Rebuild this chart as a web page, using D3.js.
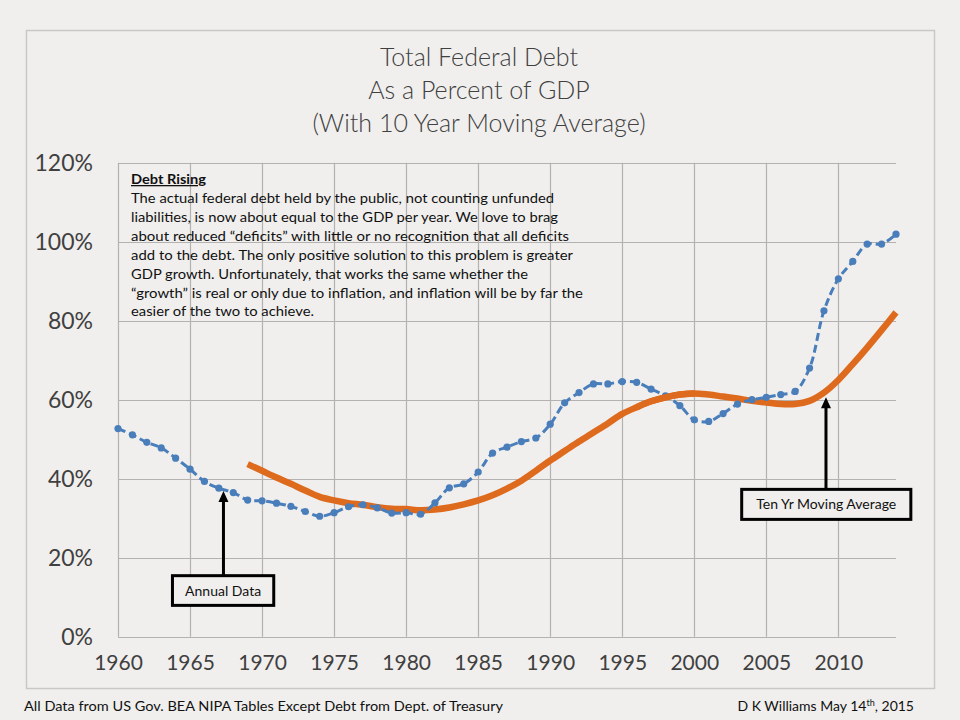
<!DOCTYPE html>
<html><head><meta charset="utf-8">
<script src="https://cdn.jsdelivr.net/npm/d3@7"></script>
<style>
html,body{margin:0;padding:0;background:#f0efed;}
svg{display:block;}
</style></head>
<body>
<svg id="chart" width="960" height="720"></svg>
<script>
const years = [1960,1961,1962,1963,1964,1965,1966,1967,1968,1969,1970,1971,1972,1973,1974,1975,1976,1977,1978,1979,1980,1981,1982,1983,1984,1985,1986,1987,1988,1989,1990,1991,1992,1993,1994,1995,1996,1997,1998,1999,2000,2001,2002,2003,2004,2005,2006,2007,2008,2009,2010,2011,2012,2013,2014];
const annualDebt = [52.7,51.1,49.2,47.8,45.2,42.4,39.3,37.6,36.5,34.6,34.4,33.8,33.0,31.7,30.5,31.4,32.9,33.4,32.6,31.3,31.4,31.0,33.9,37.7,38.7,41.7,46.5,48.0,49.4,50.3,53.8,59.2,61.8,64.0,64.0,64.6,64.4,62.7,61.0,58.5,54.9,54.5,56.5,58.9,60.0,60.6,61.3,62.1,68.0,82.5,90.6,95.0,99.4,99.4,101.9];
const maYears = [1969,1970,1971,1972,1973,1974,1975,1976,1977,1978,1979,1980,1981,1982,1983,1984,1985,1986,1987,1988,1989,1990,1991,1992,1993,1994,1995,1996,1997,1998,1999,2000,2001,2002,2003,2004,2005,2006,2007,2008,2009,2010,2011,2012,2013,2014];
const movingAvg = [43.7,42.0,40.3,38.7,37.0,35.4,34.5,33.8,33.4,32.8,32.4,32.3,32.0,32.2,32.7,33.5,34.5,35.8,37.5,39.5,42.0,44.6,47.0,49.4,51.7,54.0,56.4,58.1,59.6,60.6,61.3,61.6,61.3,60.8,60.3,59.7,59.3,58.9,58.9,59.7,61.8,65.0,69.0,73.2,77.6,82.1];
const yTicks = [0,20,40,60,80,100,120];
const xTicks = [1960,1965,1970,1975,1980,1985,1990,1995,2000,2005,2010];
const titleLines = ["Total Federal Debt","As a Percent of GDP","(With 10 Year Moving Average)"];
const noteTitle = "Debt Rising";
const noteLines = [
 "The actual federal debt held by the public, not counting unfunded",
 "liabilities, is now about equal to the GDP per year. We love to brag",
 "about reduced \u201cdeficits\u201d with little or no recognition that all deficits",
 "add to the debt. The only positive solution to this problem  is greater",
 "GDP growth. Unfortunately, that works the same whether the",
 "\u201cgrowth\u201d  is real or only due to inflation, and inflation will be by far the",
 "easier of the two to achieve."
];
const noteWidths = [423,427,438,442,397,452,183];
const sourceText = "All Data from US Gov. BEA NIPA Tables Except Debt from Dept. of Treasury";

const svg = d3.select("#chart");
const W=960,H=720;
const plot = {l:118,r:896,t:162.7,b:636.7};
const x = d3.scaleLinear().domain([1960,2014]).range([plot.l,plot.r]);
const y = d3.scaleLinear().domain([0,120]).range([plot.b,plot.t]);
const txt = "#404040", grid="#b4b2b0", blue="#4a7ebb", orange="#de6a1e";
const font = "Lato, 'Open Sans', sans-serif";

svg.append("rect").attr("width",W).attr("height",H).attr("fill","#f0efed");
svg.append("rect").attr("x",26.5).attr("y",30.5).attr("width",908).attr("height",658)
  .attr("fill","#f0efed").attr("stroke","#c9c8c6").attr("stroke-width",1.5);

// title
svg.append("g").selectAll("text").data(titleLines).join("text")
  .attr("x",479).attr("y",(d,i)=>66+i*33).attr("text-anchor","middle")
  .attr("font-family",font).attr("font-weight",300).attr("font-size",25).attr("fill",txt)
  .text(d=>d);

// gridlines
const g = svg.append("g");
g.selectAll("line.h").data(yTicks).join("line").attr("class","h")
  .attr("x1",plot.l).attr("x2",plot.r).attr("y1",d=>Math.round(y(d))+0.5).attr("y2",d=>Math.round(y(d))+0.5)
  .attr("stroke",grid).attr("stroke-width",1.2);
g.selectAll("line.v").data(xTicks).join("line").attr("class","v")
  .attr("y1",plot.t).attr("y2",plot.b).attr("x1",d=>Math.round(x(d))+0.5).attr("x2",d=>Math.round(x(d))+0.5)
  .attr("stroke",grid).attr("stroke-width",1.2);

// axes labels via d3 axes
const yAxis = svg.append("g").attr("transform",`translate(${plot.l},0)`)
  .call(d3.axisLeft(y).tickValues(yTicks).tickFormat(d=>d+"%").tickSize(0).tickPadding(25));
yAxis.select(".domain").remove();
yAxis.selectAll("text").attr("font-family",font).attr("font-size",23).attr("fill",txt).attr("dy","0.36em");

const xAxis = svg.append("g").attr("transform",`translate(0,${plot.b})`)
  .call(d3.axisBottom(x).tickValues(xTicks).tickFormat(d3.format("d")).tickSize(0).tickPadding(18));
xAxis.select(".domain").remove();
xAxis.selectAll("text").attr("font-family",font).attr("font-size",21).attr("fill",txt);

// note text
const note = svg.append("g").attr("font-family",font).attr("fill","#111");
note.append("text").attr("x",131).attr("y",184).attr("font-size",13).attr("font-weight",700)
  .attr("text-decoration","underline").attr("textLength",75).attr("lengthAdjust","spacingAndGlyphs").text(noteTitle);
note.selectAll("text.l").data(noteLines).join("text").attr("class","l")
  .attr("x",131).attr("y",(d,i)=>203+i*18.9).attr("font-size",13)
  .attr("textLength",(d,i)=>noteWidths[i]).attr("lengthAdjust","spacingAndGlyphs").text(d=>d);

// series
const annual = years.map((yr,i)=>({yr,v:annualDebt[i]}));
const ma = maYears.map((yr,i)=>({yr,v:movingAvg[i]}));
const line = d3.line().x(d=>x(d.yr)).y(d=>y(d.v)).curve(d3.curveCatmullRom.alpha(0.5));

svg.append("path").datum(ma).attr("d",line).attr("fill","none").attr("stroke",orange)
  .attr("stroke-width",6.5).attr("stroke-linejoin","round");
svg.append("path").datum(annual).attr("d",line).attr("fill","none").attr("stroke",blue)
  .attr("stroke-width",3).attr("stroke-dasharray","8,4");
svg.append("g").selectAll("circle").data(annual).join("circle")
  .attr("cx",d=>x(d.yr)).attr("cy",d=>y(d.v)).attr("r",3.6).attr("fill",blue);
// orange drawn over blue where it is on top in reference
svg.append("path").datum(ma.filter(d=>d.yr>=1996 && d.yr<=2000)).attr("d",line).attr("fill","none").attr("stroke",orange)
  .attr("stroke-width",6.5).attr("stroke-linecap","butt");

// annotations
const annotations = [
  {label:"Annual Data", ax:1967.32, tip:36.9, boxL:1963.78, boxR:1970.81, boxTop:15.45, boxBot:7.93},
  {label:"Ten Yr Moving Average", ax:2009.14, tip:60.6, boxL:2003.29, boxR:2015.03, boxTop:37.3, boxBot:29.7}
];
const ann = svg.append("g");
annotations.forEach(a=>{
  const ax = x(a.ax);
  ann.append("line").attr("x1",ax).attr("x2",ax).attr("y1",y(a.boxTop)).attr("y2",y(a.tip)+9)
    .attr("stroke","#000").attr("stroke-width",3);
  ann.append("path").attr("d",`M${ax},${y(a.tip)} L${ax-5},${y(a.tip)+11} L${ax+5},${y(a.tip)+11} Z`).attr("fill","#000");
  ann.append("rect").attr("x",x(a.boxL)).attr("y",y(a.boxTop)).attr("width",x(a.boxR)-x(a.boxL))
    .attr("height",y(a.boxBot)-y(a.boxTop)).attr("fill","#f0efed").attr("stroke","#000").attr("stroke-width",3);
  ann.append("text").attr("x",(x(a.boxL)+x(a.boxR))/2).attr("y",(y(a.boxTop)+y(a.boxBot))/2+5)
    .attr("text-anchor","middle").attr("font-family",font).attr("font-size",14).attr("fill","#111").text(a.label);
});

// footer
svg.append("text").attr("x",24).attr("y",711).attr("font-family",font).attr("font-size",14).attr("fill","#111")
  .attr("textLength",479).attr("lengthAdjust","spacingAndGlyphs").text(sourceText);
const cr = svg.append("text").attr("x",914).attr("y",711).attr("text-anchor","end").attr("font-family",font)
  .attr("font-size",14).attr("fill","#111");
cr.append("tspan").text("D K Williams May 14");
cr.append("tspan").attr("font-size",9).attr("dy",-5).text("th");
cr.append("tspan").attr("dy",5).text(", 2015");
</script>
</body></html>
